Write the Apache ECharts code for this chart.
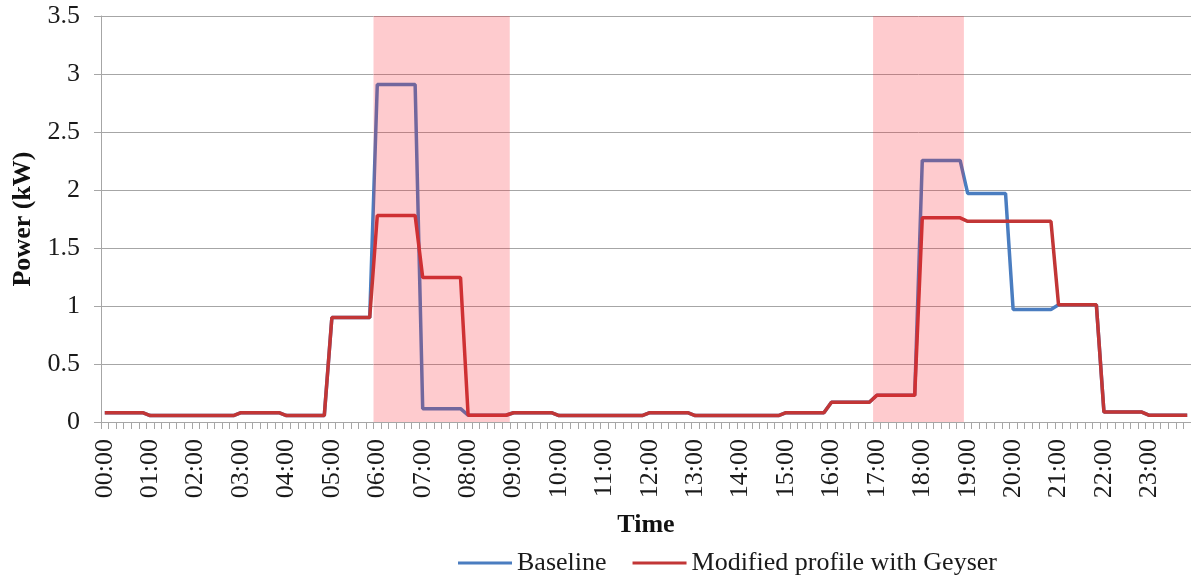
<!DOCTYPE html>
<html>
<head>
<meta charset="utf-8">
<script src="https://cdn.jsdelivr.net/npm/echarts@6/dist/echarts.min.js"></script>
<style>
html,body{margin:0;padding:0;background:#fff;}
#chart{width:1191px;height:580px;}
</style>
</head>
<body>
<div id="chart"></div>
<script>
// 10-minute time slots
const categories = [
'00:00','00:10','00:20','00:30','00:40','00:50',
'01:00','01:10','01:20','01:30','01:40','01:50',
'02:00','02:10','02:20','02:30','02:40','02:50',
'03:00','03:10','03:20','03:30','03:40','03:50',
'04:00','04:10','04:20','04:30','04:40','04:50',
'05:00','05:10','05:20','05:30','05:40','05:50',
'06:00','06:10','06:20','06:30','06:40','06:50',
'07:00','07:10','07:20','07:30','07:40','07:50',
'08:00','08:10','08:20','08:30','08:40','08:50',
'09:00','09:10','09:20','09:30','09:40','09:50',
'10:00','10:10','10:20','10:30','10:40','10:50',
'11:00','11:10','11:20','11:30','11:40','11:50',
'12:00','12:10','12:20','12:30','12:40','12:50',
'13:00','13:10','13:20','13:30','13:40','13:50',
'14:00','14:10','14:20','14:30','14:40','14:50',
'15:00','15:10','15:20','15:30','15:40','15:50',
'16:00','16:10','16:20','16:30','16:40','16:50',
'17:00','17:10','17:20','17:30','17:40','17:50',
'18:00','18:10','18:20','18:30','18:40','18:50',
'19:00','19:10','19:20','19:30','19:40','19:50',
'20:00','20:10','20:20','20:30','20:40','20:50',
'21:00','21:10','21:20','21:30','21:40','21:50',
'22:00','22:10','22:20','22:30','22:40','22:50',
'23:00','23:10','23:20','23:30','23:40','23:50'
];

const baseline = [
0.08,0.08,0.08,0.08,0.08,0.08,
0.055,0.055,0.055,0.055,0.055,0.055,
0.055,0.055,0.055,0.055,0.055,0.055,
0.08,0.08,0.08,0.08,0.08,0.08,
0.055,0.055,0.055,0.055,0.055,0.055,
0.9,0.9,0.9,0.9,0.9,0.9,
2.91,2.91,2.91,2.91,2.91,2.91,
0.115,0.115,0.115,0.115,0.115,0.115,
0.058,0.058,0.058,0.058,0.058,0.058,
0.08,0.08,0.08,0.08,0.08,0.08,
0.055,0.055,0.055,0.055,0.055,0.055,
0.055,0.055,0.055,0.055,0.055,0.055,
0.08,0.08,0.08,0.08,0.08,0.08,
0.055,0.055,0.055,0.055,0.055,0.055,
0.055,0.055,0.055,0.055,0.055,0.055,
0.08,0.08,0.08,0.08,0.08,0.08,
0.17,0.17,0.17,0.17,0.17,0.17,
0.23,0.23,0.23,0.23,0.23,0.23,
2.255,2.255,2.255,2.255,2.255,2.255,
1.97,1.97,1.97,1.97,1.97,1.97,
0.97,0.97,0.97,0.97,0.97,0.97,
1.01,1.01,1.01,1.01,1.01,1.01,
0.086,0.086,0.086,0.086,0.086,0.086,
0.058,0.058,0.058,0.058,0.058,0.058
];

const modified = [
0.08,0.08,0.08,0.08,0.08,0.08,
0.055,0.055,0.055,0.055,0.055,0.055,
0.055,0.055,0.055,0.055,0.055,0.055,
0.08,0.08,0.08,0.08,0.08,0.08,
0.055,0.055,0.055,0.055,0.055,0.055,
0.9,0.9,0.9,0.9,0.9,0.9,
1.78,1.78,1.78,1.78,1.78,1.78,
1.245,1.245,1.245,1.245,1.245,1.245,
0.058,0.058,0.058,0.058,0.058,0.058,
0.08,0.08,0.08,0.08,0.08,0.08,
0.055,0.055,0.055,0.055,0.055,0.055,
0.055,0.055,0.055,0.055,0.055,0.055,
0.08,0.08,0.08,0.08,0.08,0.08,
0.055,0.055,0.055,0.055,0.055,0.055,
0.055,0.055,0.055,0.055,0.055,0.055,
0.08,0.08,0.08,0.08,0.08,0.08,
0.17,0.17,0.17,0.17,0.17,0.17,
0.23,0.23,0.23,0.23,0.23,0.23,
1.76,1.76,1.76,1.76,1.76,1.76,
1.73,1.73,1.73,1.73,1.73,1.73,
1.73,1.73,1.73,1.73,1.73,1.73,
1.01,1.01,1.01,1.01,1.01,1.01,
0.086,0.086,0.086,0.086,0.086,0.086,
0.058,0.058,0.058,0.058,0.058,0.058
];

// shaded (peak) periods: first and last 10-minute slot covered
const shadedStart = ['06:00','17:00'];
const shadedEnd   = ['08:50','18:50'];

const yMin = 0, yMax = 3.5, yStep = 0.5;

// shaded bands expressed as slot indices on a helper value axis (slot i spans [i, i+1])
const shadeAreas = shadedStart.map(function (s, k) {
  return [
    {xAxis: categories.indexOf(s)},
    {xAxis: categories.indexOf(shadedEnd[k]) + 1}
  ];
});

const FONT = '"Liberation Serif", "Times New Roman", serif';
const FS = 26;
const chart = echarts.init(document.getElementById('chart'), null, {renderer: 'canvas'});
chart.setOption({
  animation: false,
  backgroundColor: '#ffffff',
  textStyle: {fontFamily: FONT},
  grid: {left: 101, top: 16, width: 1094, height: 406, containLabel: false},
  legend: {
    left: 453, top: 545,
    icon: 'rect',
    itemWidth: 54, itemHeight: 3, itemGap: 26,
    textStyle: {fontFamily: FONT, fontSize: FS, color: '#1a1a1a'},
    data: ['Baseline', 'Modified profile with Geyser']
  },
  xAxis: [{
    type: 'category',
    data: categories,
    boundaryGap: true,
    name: 'Time',
    nameLocation: 'middle',
    nameGap: 90,
    nameTextStyle: {fontFamily: FONT, fontSize: FS, fontWeight: 'bold', color: '#111'},
    axisLine: {lineStyle: {color: '#a6a6a6', width: 1}},
    axisTick: {show: true, interval: 0, length: 7, alignWithLabel: false, lineStyle: {color: '#a6a6a6'}},
    axisLabel: {interval: 5, rotate: 90, margin: 17, fontFamily: FONT, fontSize: FS, color: '#1a1a1a'},
    splitLine: {show: false}
  }, {
    type: 'value',
    min: 0, max: categories.length,
    show: false
  }],
  yAxis: {
    type: 'value',
    min: yMin, max: yMax, interval: yStep,
    name: 'Power (kW)',
    nameLocation: 'middle',
    nameRotate: 90,
    nameGap: 58,
    nameTextStyle: {fontFamily: FONT, fontSize: FS, fontWeight: 'bold', color: '#111'},
    axisLine: {show: true, lineStyle: {color: '#a6a6a6', width: 1}},
    axisTick: {show: true, length: 7, lineStyle: {color: '#a6a6a6'}},
    axisLabel: {margin: 21, fontFamily: FONT, fontSize: FS, color: '#1a1a1a'},
    splitLine: {show: true, lineStyle: {color: '#a6a6a6', width: 1}}
  },
  series: [
    {
      name: 'Baseline',
      type: 'line',
      data: baseline,
      symbol: 'none',
      z: 3,
      lineStyle: {color: '#4a7dc0', width: 3.5},
      itemStyle: {color: '#4a7dc0'}
    },
    {
      name: 'Modified profile with Geyser',
      type: 'line',
      data: modified,
      symbol: 'none',
      z: 4,
      lineStyle: {color: '#c23636', width: 3.5},
      itemStyle: {color: '#c23636'}
    },
    {
      name: 'Peak period',
      type: 'line',
      xAxisIndex: 1,
      data: [],
      symbol: 'none',
      silent: true,
      z: 10,
      markArea: {
        silent: true,
        z: 10,
        itemStyle: {color: 'rgba(250,30,45,0.23)'},
        label: {show: false},
        data: shadeAreas
      }
    }
  ]
});
</script>
</body>
</html>
